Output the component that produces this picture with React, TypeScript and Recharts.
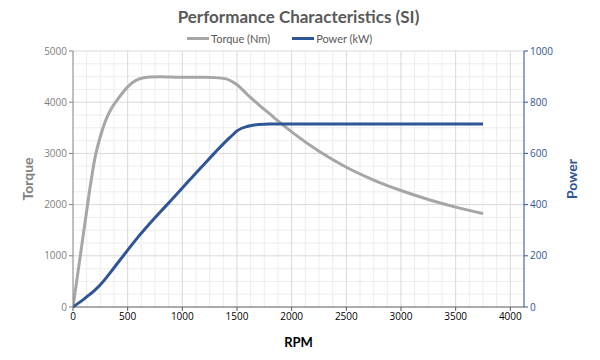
import React from "react";
import {
  LineChart,
  Line,
  XAxis,
  YAxis,
  ReferenceLine,
} from "recharts";

const rpm = [0, 50, 100, 150, 200, 250, 300, 350, 400, 500, 600, 700, 800, 900, 1000, 1100, 1200, 1300, 1400, 1450, 1500, 1600, 1700, 1800, 1900, 2000, 2250, 2500, 2750, 3000, 3250, 3500, 3750];
const torque = [0, 750, 1500, 2250, 2900, 3330, 3650, 3870, 4030, 4300, 4450, 4490, 4495, 4490, 4485, 4485, 4485, 4480, 4455, 4410, 4340, 4140, 3950, 3770, 3590, 3420, 3040, 2730, 2480, 2275, 2100, 1950, 1825];
const power = [0, 15, 31, 48, 66, 87, 112, 139, 167, 222, 276, 325, 372, 418, 465, 512, 558, 604, 648, 668, 688, 706, 713, 715, 715, 715, 715, 715, 715, 715, 715, 715, 715];

const xTicks = [0, 500, 1000, 1500, 2000, 2500, 3000, 3500, 4000];
const torqueTicks = [0, 1000, 2000, 3000, 4000, 5000];
const powerTicks = [0, 200, 400, 600, 800, 1000];
const xMinor = [125, 250, 375, 625, 750, 875, 1125, 1250, 1375, 1625, 1750, 1875, 2125, 2250, 2375, 2625, 2750, 2875, 3125, 3250, 3375, 3625, 3750, 3875, 4125];
const yMinor = [250, 500, 750, 1250, 1500, 1750, 2250, 2500, 2750, 3250, 3500, 3750, 4250, 4500, 4750];

const data = rpm.map((r, i) => ({ rpm: r, torque: torque[i], power: power[i] }));

const GRAY = "#A6A6A6";
const BLUE = "#2F5597";
const FONT = "'Open Sans', sans-serif";

export default function App() {
  return (
    <div style={{ position: "relative", width: 600, height: 360, background: "#fff", fontFamily: FONT }}>
      <style>{`body{margin:0}`}</style>
      <div style={{ position: "absolute", top: 6, left: 0, width: 597, textAlign: "center", fontSize: 17, fontWeight: 700, color: "#595959", fontFamily: "Lato, sans-serif" }}>
        Performance Characteristics (SI)
      </div>
      <div style={{ position: "absolute", top: 32, left: 187, display: "flex", alignItems: "center", fontSize: 11, color: "#595959", fontFamily: "Lato, sans-serif" }}>
        <span style={{ display: "inline-block", width: 22, height: 3, background: GRAY, marginRight: 2 }} />
        <span>Torque (Nm)</span>
        <span style={{ display: "inline-block", width: 22, height: 3, background: BLUE, marginLeft: 22, marginRight: 2 }} />
        <span>Power (kW)</span>
      </div>
      <LineChart width={600} height={360} data={data} margin={{ top: 51, right: 0, bottom: 0, left: 0 }}>
        <XAxis
          dataKey="rpm"
          type="number"
          domain={[0, 4125]}
          ticks={xTicks}
          allowDataOverflow
          height={53}
          stroke="#595959"
          tickSize={4}
          tick={{ fill: "#000", fontSize: 10, fontFamily: FONT }}
          label={{ value: "RPM", position: "insideBottom", offset: 13, fill: "#000", fontSize: 13, fontWeight: 700, fontFamily: "Lato, sans-serif" }}
        />
        <YAxis
          yAxisId="t"
          domain={[0, 5000]}
          ticks={torqueTicks}
          width={73}
          stroke="#808080"
          tickSize={4}
          tick={{ fill: "#808080", fontSize: 10, fontFamily: FONT }}
          label={{ value: "Torque", angle: -90, position: "insideLeft", offset: 28, fill: "#808080", fontSize: 14, fontWeight: 700, fontFamily: "Lato, sans-serif", style: { textAnchor: "middle" } }}
        />
        <YAxis
          yAxisId="p"
          orientation="right"
          domain={[0, 1000]}
          ticks={powerTicks}
          width={76}
          stroke={BLUE}
          tickSize={4}
          tick={{ fill: BLUE, fontSize: 10, fontFamily: FONT }}
          label={{ value: "Power", angle: -90, position: "insideRight", offset: 28, fill: BLUE, fontSize: 14, fontWeight: 700, fontFamily: "Lato, sans-serif", style: { textAnchor: "middle" } }}
        />
        {xMinor.map((v) => (
          <ReferenceLine key={"xm" + v} x={v} yAxisId="t" stroke="#EDEDED" />
        ))}
        {yMinor.map((v) => (
          <ReferenceLine key={"ym" + v} y={v} yAxisId="t" stroke="#EDEDED" />
        ))}
        {xTicks.slice(1).map((v) => (
          <ReferenceLine key={"xM" + v} x={v} yAxisId="t" stroke="#D9D9D9" />
        ))}
        {torqueTicks.slice(1).map((v) => (
          <ReferenceLine key={"yM" + v} y={v} yAxisId="t" stroke="#D9D9D9" />
        ))}
        <Line yAxisId="t" type="monotone" dataKey="torque" stroke={GRAY} strokeWidth={3} dot={false} isAnimationActive={false} />
        <Line yAxisId="p" type="monotone" dataKey="power" stroke={BLUE} strokeWidth={3} dot={false} isAnimationActive={false} />
      </LineChart>
    </div>
  );
}
